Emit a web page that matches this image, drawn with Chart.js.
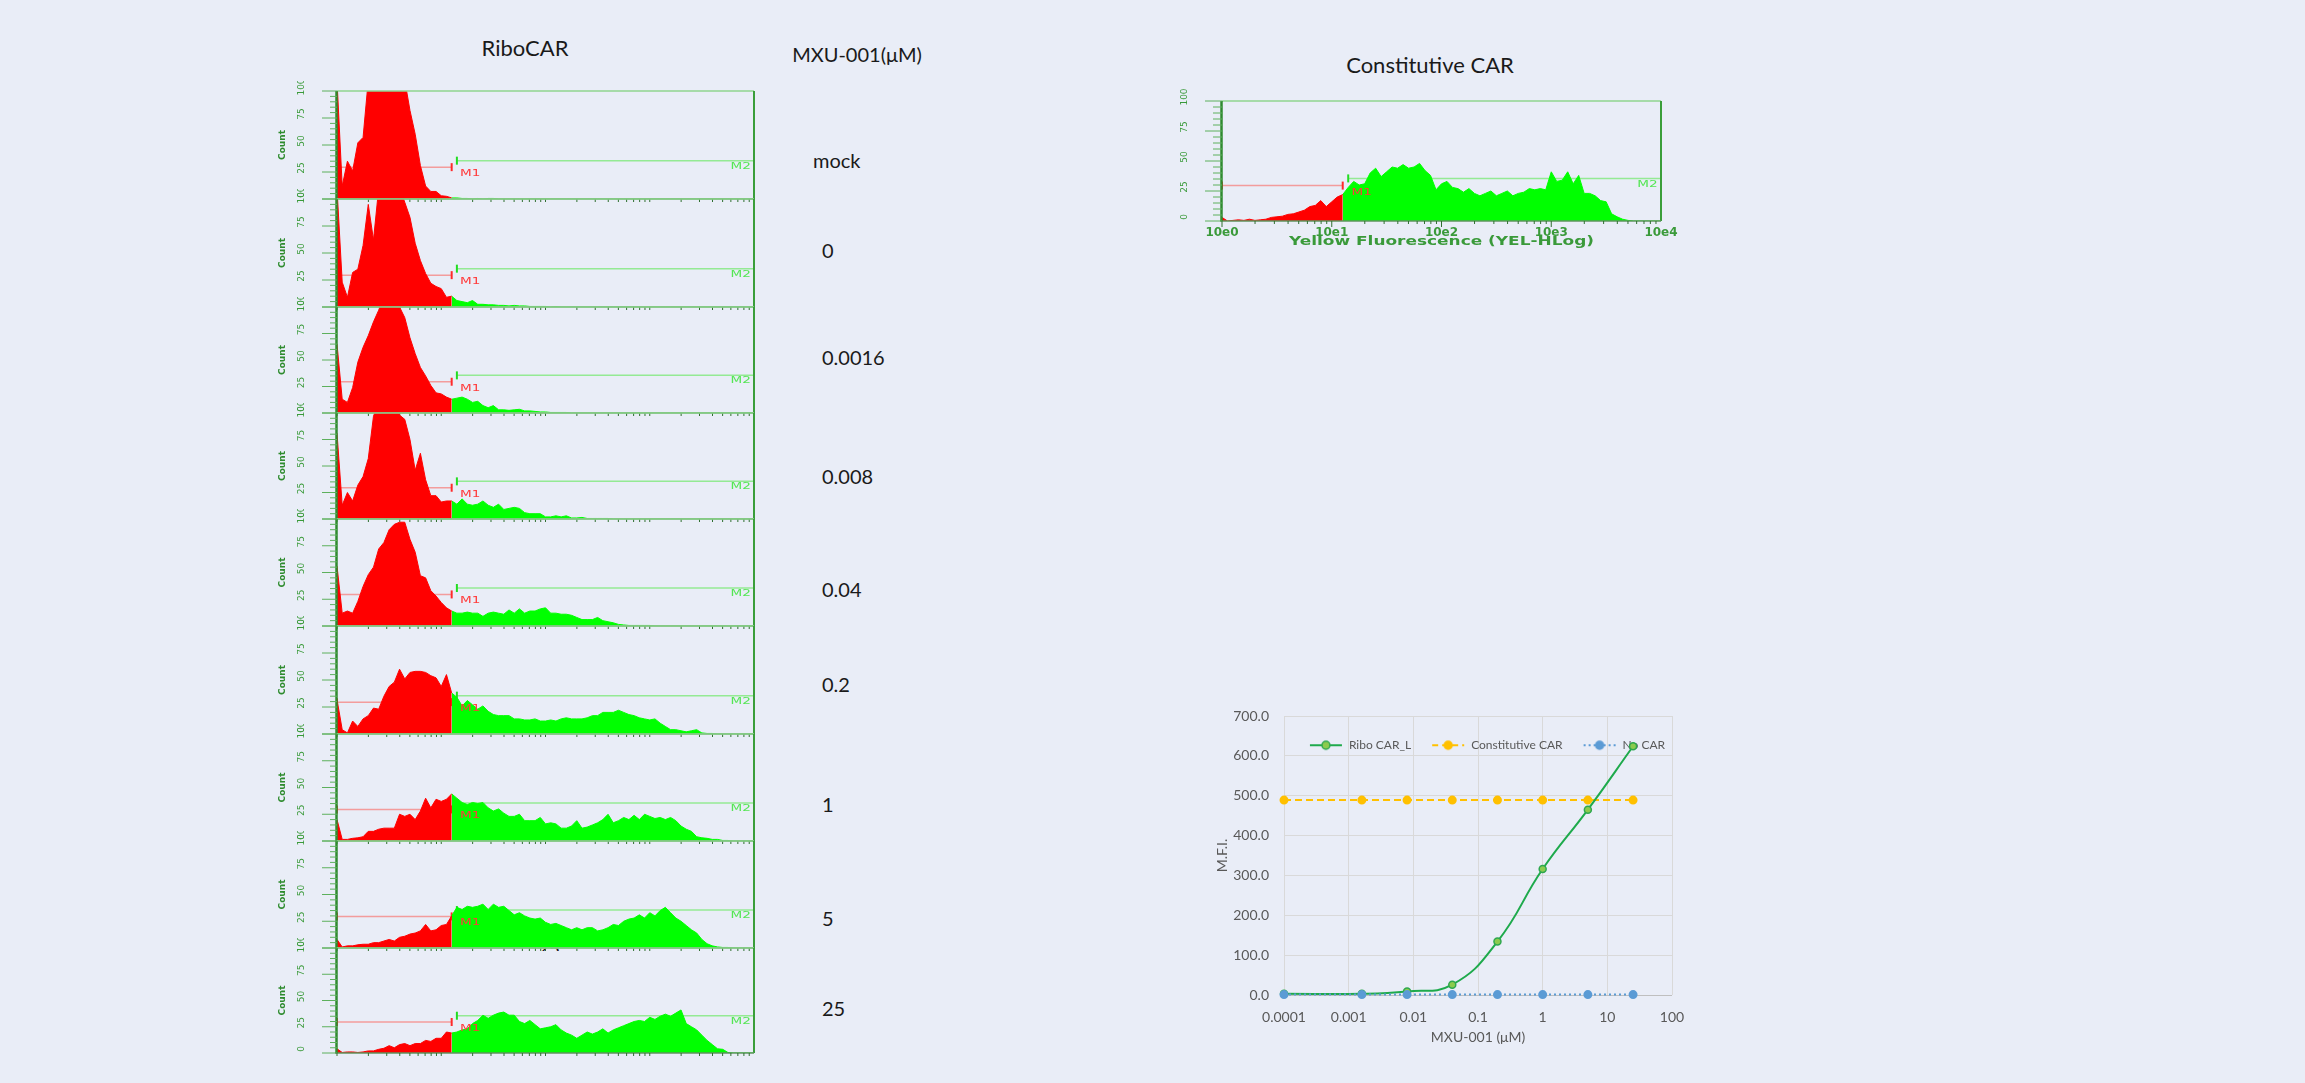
<!DOCTYPE html>
<html>
<head>
<meta charset="utf-8">
<title>RiboCAR flow histograms and MFI</title>
<script src="https://cdn.jsdelivr.net/npm/chart.js@4.4.1/dist/chart.umd.min.js"></script>
<style>
  html, body { margin: 0; padding: 0; }
  body { width: 2305px; height: 1083px; background: #E9EDF7; position: relative; overflow: hidden;
         font-family: Lato, "Open Sans", sans-serif; color: #1a1a1a; }
  .txt { position: absolute; white-space: nowrap; line-height: 1; }
  .head { font-size: 22px; transform: translateX(-50%); }
  .conc { font-size: 20px; }
  canvas { position: absolute; }
</style>
</head>
<body>
<div class="txt head" style="left:525px;top:37px">RiboCAR</div>
<div class="txt conc" style="left:857px;top:44px;transform:translateX(-50%)">MXU-001(μM)</div>
<div class="txt head" style="left:1430px;top:54px">Constitutive CAR</div>
<div class="txt conc" style="left:537px;top:938px">25</div>
<script>
// MFI dose response (bottom right)
const doses = [0.0001, 0.0016, 0.008, 0.04, 0.2, 1, 5, 25];
const riboCAR = [3, 3, 9, 26, 134, 316, 465, 624];
const constitutiveCAR = [489, 489, 489, 489, 489, 489, 489, 489];
const noCAR = [1, 1, 1, 1, 1, 1, 1, 1];
const mfiXTicks = [0.0001, 0.001, 0.01, 0.1, 1, 10, 100];
const mfiXLabels = ['0.0001', '0.001', '0.01', '0.1', '1', '10', '100'];

// flow histograms: counts per channel bin, 20 bins per decade (10e0 .. 10e4)
const concLabels = ['mock', '0', '0.0016', '0.008', '0.04', '0.2', '1', '5', '25'];
const histMock = [110, 12, 35, 26, 52, 57, 110, 110, 110, 110,
  110, 110, 110, 110, 82, 60, 31, 12, 7, 7,
  3, 2.5, 1, 1, 0.5, 0.5, 0, 0.5, 0, 0.5,
  0.5, 0, 0, 0, 0, 0, 0, 0, 0, 0,
  0, 0, 0, 0, 0, 0, 0, 0, 0, 0,
  0, 0, 0, 0, 0, 0, 0, 0, 0, 0,
  0, 0, 0, 0, 0, 0, 0, 0, 0, 0,
  0, 0, 0, 0, 0, 0, 0, 0, 0, 0, 0];
const hist0 = [110, 23, 9, 32, 35, 57, 95, 62, 110, 110,
  110, 110, 110, 97, 83, 59, 43, 31, 22, 19,
  17, 9, 10, 6, 5, 4, 6, 2.5, 2.5, 2,
  2, 1.5, 1.5, 1, 1.5, 1, 1, 0.5, 0.5, 0.5,
  0.5, 0, 0.5, 0, 0, 0, 0, 0, 0, 0,
  0, 0, 0, 0, 0, 0, 0, 0, 0, 0,
  0, 0, 0, 0, 0, 0, 0, 0, 0, 0,
  0, 0, 0, 0, 0, 0, 0, 0, 0, 0, 0];
const hist0016 = [65, 13, 10, 24, 48, 62, 73, 86, 97, 110,
  110, 110, 100, 90, 71, 56, 43, 35, 26, 19,
  18, 15, 13, 14, 15, 13, 10, 11, 7, 5,
  7, 3, 3, 2.5, 3, 3.5, 2, 2, 1.5, 1,
  1, 0.5, 0.5, 0.5, 0.5, 0, 0, 0, 0, 0,
  0, 0, 0, 0, 0, 0, 0, 0, 0, 0,
  0, 0, 0, 0, 0, 0, 0, 0, 0, 0,
  0, 0, 0, 0, 0, 0, 0, 0, 0, 0, 0];
const hist008 = [81, 13, 25, 17, 32, 40, 57, 97, 110, 110,
  110, 110, 98, 94, 75, 46, 62, 37, 22, 22,
  16, 17, 17, 14, 19, 14, 13, 14, 17, 13,
  11, 14, 9, 10, 11, 10, 6, 5, 5, 5,
  2, 2, 3, 2, 3, 1, 1, 1.5, 0.5, 0.5,
  0.5, 0.5, 0.5, 0, 0, 0, 0, 0, 0, 0,
  0, 0, 0, 0, 0, 0, 0, 0, 0, 0,
  0, 0, 0, 0, 0, 0, 0, 0, 0, 0, 0];
const hist04 = [56, 12, 14, 12, 23, 37, 48, 55, 72, 78,
  90, 95, 97, 97, 81, 69, 47, 45, 33, 28,
  22, 17, 14, 12, 12, 13, 12, 12, 9, 12,
  13, 12, 11, 15, 12, 16, 12, 14, 14, 16,
  17, 12, 12, 11, 11, 10, 8, 6, 6, 6,
  8, 5, 4, 3, 1.5, 1, 0.5, 0.5, 0.5, 0.5,
  0.5, 0, 0, 0, 0, 0, 0, 0, 0, 0,
  0, 0, 0, 0, 0, 0, 0, 0, 0, 0, 0];
const hist02 = [32, 4, 1, 12, 7, 14, 17, 24, 23, 35,
  44, 48, 60, 51, 57, 58, 58, 57, 54, 52,
  44, 55, 38, 34, 26, 31, 27, 23, 26, 21,
  18, 17, 17, 17, 14, 14, 13, 13, 14, 12,
  12, 13, 12, 14, 15, 14, 14, 14, 15, 17,
  17, 20, 20, 20, 22, 20, 18, 17, 15, 14,
  13, 14, 10, 7, 4, 4, 3, 2, 3, 4,
  1, 0.5, 0.5, 0, 0, 0, 0, 0, 0, 0, 0];
const hist1 = [20, 1.5, 1.5, 2.5, 3, 4, 9, 9, 11, 12,
  12, 12, 25, 23, 25, 20, 28, 40, 31, 39,
  37, 39, 44, 40, 36, 34, 36, 35, 36, 31,
  28, 30, 26, 23, 23, 25, 19, 19, 19, 22,
  16, 17, 16, 12, 12, 14, 19, 12, 13, 15,
  17, 20, 25, 17, 19, 22, 20, 24, 20, 25,
  23, 21, 22, 20, 22, 19, 14, 11, 9, 4,
  3, 2.5, 1.5, 1.5, 0.5, 0.5, 0, 0, 0, 0, 0];
const hist5 = [8, 1, 2, 2, 3, 3.5, 3.5, 5, 5, 6.5,
  8, 6.5, 10, 11, 13, 14, 16, 22, 16, 17,
  21, 22, 30, 38, 36, 39, 38, 39, 41, 36,
  41, 38, 39, 35, 31, 33, 30, 28, 27, 28,
  24, 22, 23, 21, 19, 17, 19, 17, 19, 19,
  16, 17, 19, 22, 21, 25, 27, 28, 31, 28,
  33, 30, 35, 38, 33, 28, 25, 21, 17, 14,
  8, 4, 2, 1, 0.5, 0.5, 0, 0, 0, 0, 0];
const hist25 = [4, 0.5, 1, 1, 0.5, 1, 2, 2, 3.5, 4.5,
  7, 5, 8, 9, 7, 9, 9, 12, 11, 14,
  14, 20, 19, 20, 22, 23, 28, 31, 36, 33,
  36, 38, 39, 36, 36, 30, 28, 31, 27, 23,
  24, 25, 27, 22, 19, 17, 14, 17, 20, 18,
  20, 23, 19, 22, 24, 26, 28, 30, 31, 30,
  34, 32, 35, 37, 35, 38, 41, 28, 25, 22,
  17, 12, 8, 4, 3.5, 0.5, 0, 0, 0, 0, 0];
const histConst = [3, 0, 0.5, 1, 0.5, 1.5, 0.5, 1, 1.5, 3,
  3.5, 4, 5.5, 6, 7.5, 9, 12, 13, 17, 12,
  16, 20, 22, 28, 33, 30, 31, 40, 44, 37,
  41, 45, 44, 47, 44, 45, 48, 42, 38, 26,
  31, 33, 28, 27, 24, 27, 23, 21, 23, 25,
  21, 23, 25, 21, 23, 24, 27, 26, 27, 26,
  41, 33, 34, 41, 31, 38, 23, 23, 21, 17,
  16, 6, 3.5, 1.5, 0.5, 0, 0, 0, 0, 0, 0];

const cutBin = 22;        // M1 / M2 gate boundary
const m2StartBin = 23;
const lastBin = 80;
const m1Level = 29.5;     // gate marker heights
const m2Level = 35.5;
const countTicks = [0, 25, 50, 75, 100];
const countTickLabels = ['0', '25', '50', '75', '100'];
const decadeBins = [0, 20, 40, 60, 80];
const decadeLabels = ['10e0', '10e1', '10e2', '10e3', '10e4'];
const fluorTitle = 'Yellow Fluorescence (YEL-HLog)';

const BG = '#E9EDF7';
Chart.defaults.font.family = 'Lato, "Open Sans", sans-serif';
Chart.defaults.color = '#595959';

// layout
const concTops = [150, 240, 347, 466, 579, 674, 794, 908, 998];
const panelTops = [91, 199, 307, 413, 519, 626, 734, 841, 948, 1053];

concLabels.forEach((t, i) => {
  const d = document.createElement('div');
  d.className = 'txt conc';
  d.textContent = t;
  d.style.left = (i === 0 ? 813 : 822) + 'px';
  d.style.top = concTops[i] + 'px';
  document.body.appendChild(d);
});

function addCanvas(left, top, w, h) {
  const c = document.createElement('canvas');
  c.width = w; c.height = h;
  c.style.left = left + 'px'; c.style.top = top + 'px';
  document.body.appendChild(c);
  return c;
}

function stretchText(ctx, text, x, y, sx, align) {
  ctx.save();
  ctx.translate(x, y);
  ctx.scale(sx, 1);
  ctx.textAlign = align;
  ctx.fillText(text, 0, 0);
  ctx.restore();
}

// frame, ticks, gate labels of the cytometer panels
const flowFrame = {
  id: 'flowFrame',
  beforeDatasetsDraw(chart, args, o) {
    if (!o.cover) return;
    const a = chart.chartArea, ctx = chart.ctx;
    ctx.save();
    ctx.fillStyle = BG;
    ctx.fillRect(a.left, a.top + 3, a.right - a.left, a.bottom - a.top - 3);
    ctx.restore();
  },
  afterDatasetsDraw(chart, args, o) {
    const {ctx, chartArea: a, scales: {x, y}} = chart;
    const line = (x1, y1, x2, y2, c, w) => {
      ctx.strokeStyle = c; ctx.lineWidth = w;
      ctx.beginPath(); ctx.moveTo(x1, y1); ctx.lineTo(x2, y2); ctx.stroke();
    };
    ctx.save();
    line(a.left, a.top, a.right, a.top, '#8FD48F', 1.5);
    line(a.right, a.top, a.right, a.bottom, '#3A9E3A', 2);
    line(a.left - 2, a.bottom, a.right, a.bottom, '#5E935E', 1.5);
    line(a.left - 0.5, a.top, a.left - 0.5, a.bottom, '#2F8A2F', 2.5);

    // count ticks every 5
    for (let v = 0; v <= 100; v += 5) {
      const py = y.getPixelForValue(v);
      line(a.left - (v % 25 === 0 ? o.major : o.minor), py, a.left, py, '#5DB05D', 1);
    }
    // log ticks on the channel axis
    for (let d = 0; d < 4; d++) {
      for (let m = 1; m <= 9; m++) {
        const px = x.getPixelForValue((d + Math.log10(m)) * 20);
        line(px, a.bottom, px, a.bottom + (m === 1 ? o.xMajor : o.xMinor), '#2F6F2F', 1);
      }
    }
    ctx.textBaseline = 'middle';
    ctx.textAlign = 'center';
    ctx.fillStyle = '#3A9A3A';
    ctx.font = '9px "DejaVu Sans"';
    countTicks.forEach((v, i) => {
      ctx.save();
      ctx.translate(a.left + o.labelDx, y.getPixelForValue(v) - 4);
      ctx.rotate(-Math.PI / 2);
      ctx.fillText(countTickLabels[i], 0, 0);
      ctx.restore();
    });
    if (o.titleDx !== null) {
      ctx.save();
      ctx.font = 'bold 9px "DejaVu Sans"';
      ctx.fillStyle = '#2E8B2E';
      ctx.translate(a.left + o.titleDx, (a.top + a.bottom) / 2);
      ctx.rotate(-Math.PI / 2);
      ctx.fillText('Count', 0, 0);
      ctx.restore();
    }
    // gate names
    ctx.font = '8px "DejaVu Sans"';
    ctx.fillStyle = '#FF3B3B';
    stretchText(ctx, 'M1', x.getPixelForValue(23.6), y.getPixelForValue(23), 1.7, 'left');
    ctx.fillStyle = '#55E655';
    stretchText(ctx, 'M2', x.getPixelForValue(79.4), y.getPixelForValue(30), 1.7, 'right');

    if (o.decades) {
      ctx.font = 'bold 12px "DejaVu Sans"';
      ctx.fillStyle = '#3A9A3A';
      decadeBins.forEach((b, i) => ctx.fillText(decadeLabels[i], x.getPixelForValue(b), a.bottom + 12));
      const w = ctx.measureText(fluorTitle).width;
      stretchText(ctx, fluorTitle, (a.left + a.right) / 2, a.bottom + 21, 305 / w, 'center');
    }
    ctx.restore();
  }
};

function histChart(canvas, values, pad, o) {
  const red = values.map((v, i) => ({x: i, y: v})).filter(p => p.x <= cutBin);
  const green = values.map((v, i) => ({x: i, y: v})).filter(p => p.x >= cutBin);
  return new Chart(canvas, {
    type: 'line',
    data: {
      datasets: [
        {data: red, borderColor: '#FF0000', backgroundColor: '#FF0000', fill: 'origin',
         borderWidth: 1, pointRadius: 0, tension: 0, clip: 0},
        {data: green, borderColor: '#00FF00', backgroundColor: '#00FF00', fill: 'origin',
         borderWidth: 1, pointRadius: 0, tension: 0, clip: 0},
        {data: [{x: 0, y: m1Level}, {x: cutBin, y: m1Level}], borderColor: '#F39C9C', borderWidth: 1.5,
         pointStyle: 'line', pointRotation: 90, pointRadius: 4, pointBorderColor: '#FF2A2A',
         pointBorderWidth: 2, fill: false, clip: 6},
        {data: [{x: m2StartBin, y: m2Level}, {x: lastBin, y: m2Level}], borderColor: '#94EA94', borderWidth: 1.5,
         pointStyle: 'line', pointRotation: 90, pointRadius: [4, 0], pointBorderColor: '#22DD22',
         pointBorderWidth: 2, fill: false, clip: 6}
      ]
    },
    options: {
      responsive: false, animation: false, devicePixelRatio: 1,
      layout: {padding: pad},
      scales: {
        x: {type: 'linear', min: 0, max: lastBin, display: false},
        y: {min: 0, max: 100, display: false}
      },
      plugins: {legend: {display: false}, tooltip: {enabled: false}, flowFrame: o}
    },
    plugins: [flowFrame]
  });
}

const stackHists = [histMock, hist0, hist0016, hist008, hist04, hist02, hist1, hist5, hist25];
stackHists.forEach((vals, k) => {
  const top = panelTops[k], h = panelTops[k + 1] - top;
  const c = addCanvas(270, top - 10, 500, h + 20);
  histChart(c, vals, {left: 67, right: 16, top: 10, bottom: 10},
    {major: 15, minor: 7, labelDx: -35, titleDx: -54, xMajor: 3, xMinor: 3, cover: k === 8, decades: false});
});

histChart(addCanvas(1180, 85, 520, 175), histConst, {left: 42, right: 39, top: 16, bottom: 39},
  {major: 17, minor: 9, labelDx: -37, titleDx: null, xMajor: 6, xMinor: 3, cover: false, decades: true});

// ---- MFI chart ----
function legendIcon(color, dash, fill, stroke) {
  const c = document.createElement('canvas');
  c.width = 34; c.height = 12;
  const g = c.getContext('2d');
  g.strokeStyle = color; g.lineWidth = 2; g.setLineDash(dash);
  g.beginPath(); g.moveTo(1, 6); g.lineTo(33, 6); g.stroke();
  g.setLineDash([]);
  g.beginPath(); g.arc(17, 6, 4, 0, Math.PI * 2);
  g.fillStyle = fill; g.fill();
  g.strokeStyle = stroke; g.lineWidth = 1.5; g.stroke();
  return c;
}
const legendIcons = [
  legendIcon('#1EAA4C', [], '#8CCB4E', '#2EA84F'),
  legendIcon('#FFC000', [6, 4], '#FFC000', '#FFC000'),
  legendIcon('#5B9BD5', [2, 3], '#5B9BD5', '#5B9BD5')
];

// legend drawn over the plot area, like the spreadsheet chart
const legendInside = {
  id: 'legendInside',
  afterInit(chart) {
    const lg = chart.legend;
    const fit = lg.fit;
    lg.fit = function () { this.maxWidth = 1000; fit.call(this); this.height = 0; };
  },
  afterLayout(chart) {
    const lg = chart.legend, a = chart.chartArea;
    lg.left = a.left - 10;
    lg.right = a.right + 28;
    lg.width = lg.right - lg.left;
    lg.height = 60;
    lg.bottom = lg.top + 60;
  }
};

const pts = arr => doses.map((d, i) => ({x: d, y: arr[i]}));

new Chart(addCanvas(1180, 690, 520, 370), {
  type: 'line',
  data: {
    datasets: [
      {label: 'Ribo CAR_L', data: pts(riboCAR), borderColor: '#1EAA4C', borderWidth: 2, tension: 0.45,
       pointRadius: 3.5, pointBackgroundColor: '#8CCB4E', pointBorderColor: '#2EA84F', pointBorderWidth: 1.5,
       clip: 8, order: 1},
      {label: 'Constitutive CAR', data: pts(constitutiveCAR), borderColor: '#FFC000', borderWidth: 2,
       borderDash: [7, 4], pointRadius: 3.5, pointBackgroundColor: '#FFC000', pointBorderColor: '#FFC000',
       clip: 8, order: 2},
      {label: 'No CAR', data: pts(noCAR), borderColor: '#5B9BD5', borderWidth: 2, borderDash: [2, 3],
       pointRadius: 3.5, pointBackgroundColor: '#5B9BD5', pointBorderColor: '#5B9BD5', clip: 8, order: 0}
    ]
  },
  options: {
    responsive: false, animation: false, devicePixelRatio: 1,
    layout: {padding: {left: 0, top: 26, right: 28, bottom: 0}},
    scales: {
      x: {
        type: 'logarithmic', min: 0.0001, max: 100,
        afterBuildTicks: s => { s.ticks = mfiXTicks.map(v => ({value: v})); },
        afterFit: s => { s.height = 65; s.paddingLeft = 0; s.paddingRight = 0; },
        ticks: {callback: (v, i) => mfiXLabels[i], font: {size: 14}, color: '#595959',
                padding: 14, maxRotation: 0, autoSkip: false},
        grid: {color: '#D9D9D9', drawTicks: false},
        border: {display: false},
        title: {display: true, text: 'MXU-001 (μM)', font: {size: 14}, color: '#595959',
                padding: {top: 0, bottom: 14}}
      },
      y: {
        min: 0, max: 700,
        afterFit: s => { s.width = 104; s.paddingTop = 0; s.paddingBottom = 0; },
        ticks: {stepSize: 100, callback: v => v.toFixed(1), font: {size: 14}, color: '#595959', padding: 15},
        grid: {color: c => (c.tick && c.tick.value === 0 ? '#BFBFBF' : '#D9D9D9'), drawTicks: false},
        border: {display: false},
        title: {display: true, text: 'M.F.I.', font: {size: 14}, color: '#595959',
                padding: {top: 34, bottom: 0}}
      }
    },
    plugins: {
      tooltip: {enabled: false},
      legend: {
        position: 'top', fullSize: false, align: 'center',
        title: {display: true, text: '', font: {size: 1}, padding: {top: 0, bottom: 2}},
        labels: {
          usePointStyle: true, pointStyleWidth: 34, padding: 20, font: {size: 12}, color: '#595959',
          generateLabels: chart => chart.data.datasets.map((ds, i) => ({
            text: ds.label, pointStyle: legendIcons[i], fontColor: '#595959',
            fillStyle: 'transparent', strokeStyle: 'transparent', lineWidth: 0,
            hidden: false, datasetIndex: i
          }))
        }
      }
    }
  },
  plugins: [legendInside]
});
</script>
</body>
</html>
